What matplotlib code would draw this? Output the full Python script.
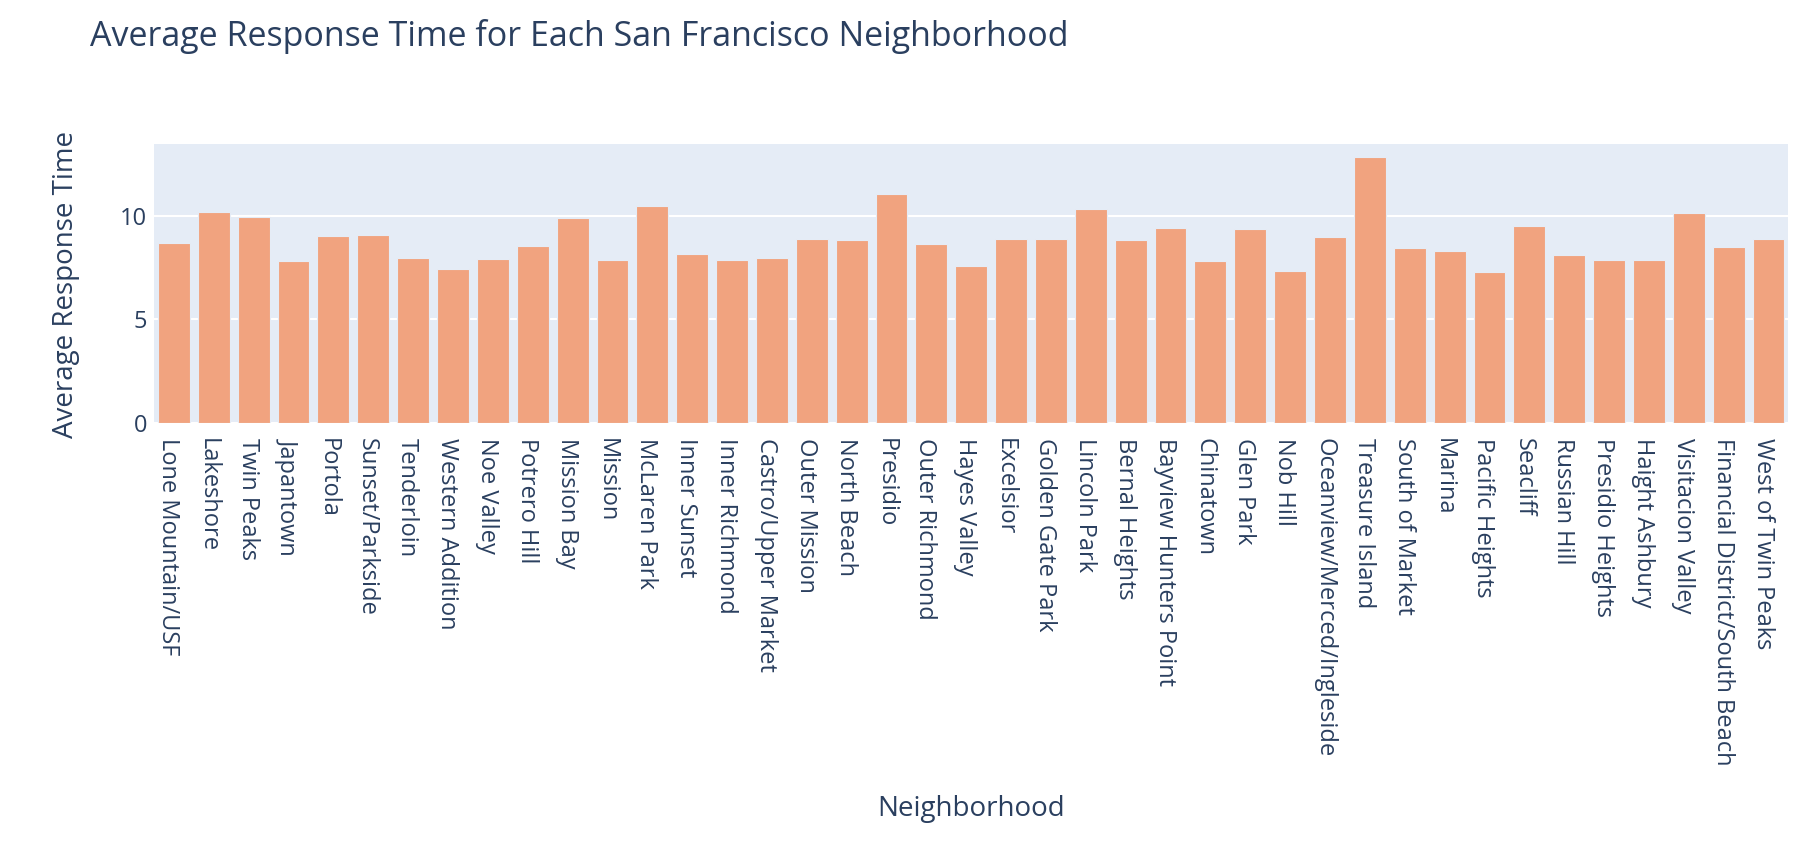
import matplotlib
matplotlib.use("Agg")
import matplotlib.pyplot as plt
from matplotlib.transforms import ScaledTranslation

# --------------------------------
# Data
# --------------------------------
neighborhoods = [
    "Lone Mountain/USF", "Lakeshore", "Twin Peaks", "Japantown", "Portola",
    "Sunset/Parkside", "Tenderloin", "Western Addition", "Noe Valley",
    "Potrero Hill", "Mission Bay", "Mission", "McLaren Park", "Inner Sunset",
    "Inner Richmond", "Castro/Upper Market", "Outer Mission", "North Beach",
    "Presidio", "Outer Richmond", "Hayes Valley", "Excelsior",
    "Golden Gate Park", "Lincoln Park", "Bernal Heights",
    "Bayview Hunters Point", "Chinatown", "Glen Park", "Nob Hill",
    "Oceanview/Merced/Ingleside", "Treasure Island", "South of Market",
    "Marina", "Pacific Heights", "Seacliff", "Russian Hill",
    "Presidio Heights", "Haight Ashbury", "Visitacion Valley",
    "Financial District/South Beach", "West of Twin Peaks",
]
avg_response = [
    8.66, 10.17, 9.93, 7.80, 9.03,
    9.08, 7.98, 7.44, 7.93,
    8.53, 9.87, 7.85, 10.45, 8.15,
    7.88, 7.98, 8.86, 8.81,
    11.06, 8.65, 7.59, 8.86,
    8.89, 10.33, 8.84,
    9.42, 7.81, 9.34, 7.34,
    8.95, 12.80, 8.42,
    8.29, 7.30, 9.49, 8.08,
    7.84, 7.84, 10.10,
    8.50, 8.86,
]
y_ticks = [0, 5, 10]

# --------------------------------
# Style
# --------------------------------
TEXT = "#2a3f5f"
BG = "#E5ECF6"
BAR = "#F1A37F"
plt.rcParams["font.family"] = ["Open Sans", "DejaVu Sans"]

fig = plt.figure(figsize=(18.12, 8.48), dpi=100)
ax = fig.add_axes([0.085, 0.501, 0.902, 0.329])
ax.set_facecolor(BG)

x = list(range(len(neighborhoods)))
ax.bar(x, avg_response, width=0.8, color=BAR, edgecolor=BG, linewidth=0.8, zorder=3)

ax.set_xlim(-0.5, len(neighborhoods) - 0.5)
ax.set_ylim(0, max(avg_response) * 1.05)
ax.set_yticks(y_ticks)
ax.set_xticks(x)
ax.set_xticklabels([])

# category labels, rotated and nudged a bit left like the plotly output
label_tf = ax.get_xaxis_transform() + ScaledTranslation(-6 / 100, -11 / 72, fig.dpi_scale_trans)
for xi, name in zip(x, neighborhoods):
    ax.text(xi, 0, name, transform=label_tf, rotation=-90, ha="center", va="top",
            fontsize=17, color=TEXT, clip_on=False)

ax.grid(axis="y", color="white", linewidth=1.5, zorder=1)
ax.grid(axis="x", visible=False)
for s in ax.spines.values():
    s.set_visible(False)
ax.tick_params(axis="both", length=0, labelsize=17, labelcolor=TEXT)
ax.tick_params(axis="y", pad=5)

# titles placed in figure coords like the plotly layout
fig.text(0.0497, 0.9458, "Average Response Time for Each San Francisco Neighborhood",
         fontsize=24.5, color=TEXT, ha="left", va="baseline")
fig.text(0.536, 0.046, "Neighborhood", fontsize=20, color=TEXT, ha="center", va="center")
fig.text(0.0364, 0.665, "Average Response Time", fontsize=20, color=TEXT,
         ha="center", va="center", rotation=90)

fig.savefig("out.png", dpi=100, facecolor="white")
